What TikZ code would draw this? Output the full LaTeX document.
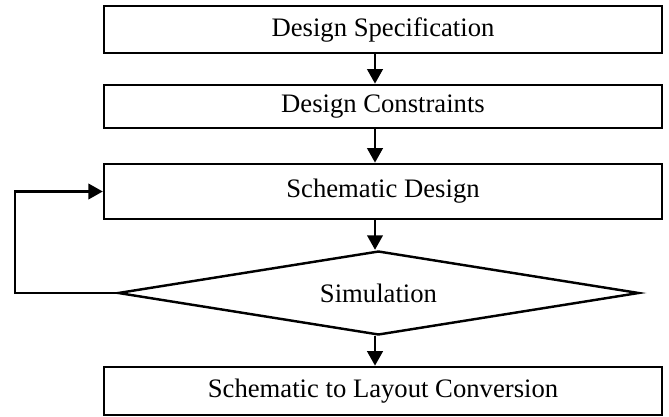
\documentclass[tikz,border=0pt]{standalone}
\usepackage{fontspec}
\setmainfont{Liberation Serif}
\usetikzlibrary{shapes.geometric, arrows.meta}

\tikzset{
	stagebox/.style={draw, line width=1.2pt, minimum width=251pt, inner sep=0pt, font=\fontsize{12}{14}\selectfont},
	checkbox/.style={draw, diamond, aspect=6.2, line width=1.1pt, minimum width=234.5pt, minimum height=37.8pt, inner sep=0pt, font=\fontsize{12}{14}\selectfont},
	flow/.style={line width=1pt, -{Triangle[length=6.5pt,width=7pt]}}
}

\begin{document}
\begin{tikzpicture}[x=0.45pt, y=0.45pt]
		\useasboundingbox (0,0) rectangle (669,416);
		% Design flow stages
		\node[stagebox, minimum height=21.2pt] (spec) at (383,386.5) {Design Specification};
		\node[stagebox, minimum height=19.4pt] (cons) at (383,309.5) {Design Constraints};
		\node[stagebox, minimum height=24.8pt] (schem) at (383,224.5) {Schematic Design};
		\node[checkbox] (sim) at (378.5,123) {Simulation};
		\node[stagebox, minimum height=21.6pt] (layout) at (383,25) {Schematic to Layout Conversion};

		% Vertical flow axis and feedback column
		\coordinate (axis) at (375,0);
		\coordinate (loop) at (15,0);

		% Arrows down the flow
		\draw[flow] (spec.south -| axis) -- (cons.north -| axis);
		\draw[flow] (cons.south -| axis) -- (schem.north -| axis);
		\draw[flow] (schem.south -| axis) -- (sim.north -| axis);
		\draw[flow] (sim.south -| axis) -- (layout.north -| axis);

		% Feedback from simulation back to schematic
		\draw[flow] (sim.west) -- (sim.west -| loop) |- (schem.west);
	\end{tikzpicture}
\end{document}
